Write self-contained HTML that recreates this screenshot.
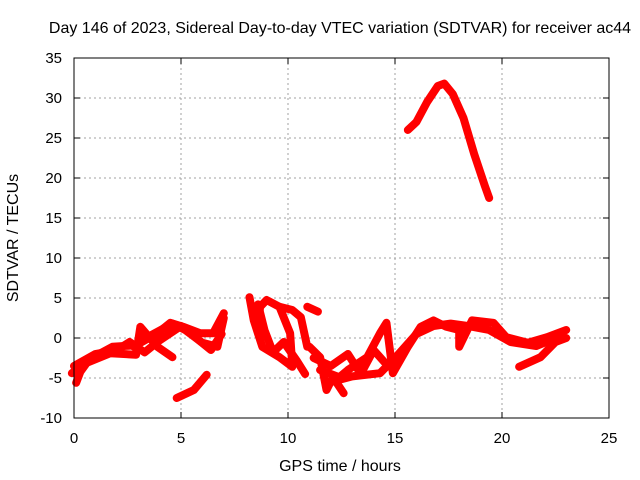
<!DOCTYPE html>
<html><head><meta charset="utf-8"><style>
body{margin:0;background:#fff}
svg{display:block;font-family:"Liberation Sans",sans-serif}
text{font-size:15px;fill:#000}
</style></head><body>
<svg id="chart" width="640" height="480">
<text x="340" y="33" text-anchor="middle" style="font-size:16px">Day 146 of 2023, Sidereal Day-to-day VTEC variation (SDTVAR) for receiver ac44</text>
<text x="340" y="471" text-anchor="middle" style="font-size:16px">GPS time / hours</text>
<text x="18" y="238" text-anchor="middle" style="font-size:16px" transform="rotate(-90 18 238)">SDTVAR / TECUs</text>
<g id="grid"></g><g id="ticks"></g><g id="marks"></g>
<rect x="74" y="58" width="535" height="360" fill="none" stroke="#000" stroke-width="1"/>
</svg>
<script>
const xTicks=[0,5,10,15,20,25];
const yTicks=[-10,-5,0,5,10,15,20,25,30,35];
const arcX=[15.6,16,16.5,17,17.3,17.7,18.2,18.7,19.2,19.4];
const arcY=[26,27,29.5,31.5,31.8,30.5,27.5,23,19,17.5];
const bandAX=[-0.1,0.9,1.8,2.9,3.9,4.5,5.1,5.9,6.5,7.0];
const bandAY=[-4.4,-2.4,-1.1,-0.9,0.6,1.9,1.4,0.6,0.6,3.1];
const bandBX=[0.1,0.3,0.6,1.7,2.9,3.1,3.9,4.6];
const bandBY=[-5.6,-4.2,-3.1,-1.9,-2.1,1.4,-1.1,-2.4];
const bandCX=[2.8,3.5,4.6,5.2,6.0,6.7,7.0];
const bandCY=[-1.1,0.2,1.8,1.0,-0.6,-1.1,2.5];
const bandDX=[0.0,1.0,2.0,2.6,3.3,4.0,5.0,5.8,6.4,6.9];
const bandDY=[-3.5,-2.0,-1.5,-0.5,-1.8,-0.3,1.5,-0.2,-1.5,0.5];
const lowX=[4.8,5.6,6.2];
const lowY=[-7.5,-6.5,-4.6];
const loop1X=[8.2,8.4,8.8,9.6,10.2,10.1,9.6,9.0,8.7,8.6];
const loop1Y=[5.1,2.2,-1.1,-2.4,-3.6,0.6,3.9,4.75,3.9,2.0];
const loop2X=[9.6,10.2,10.6,10.9,11.0,11.5,11.8,12.1,12.6];
const loop2Y=[3.9,3.5,2.6,-1.1,-1.1,-2.4,-6.5,-4.9,-6.9];
const loop3X=[8.6,8.9,9.3,9.8,10.4,10.8];
const loop3Y=[4.2,1.0,-1.8,-0.5,-2.8,-4.5];
const shortX=[10.9,11.4];
const shortY=[3.9,3.3];
const midX=[11.5,12.4,12.8,13.7,14.3,14.6,14.9,15.6,16.2,16.8,17.4,18.0,18.0,18.6,19.6,20.2,21.2,22.1,23.0];
const midY=[-4.0,-4.9,-4.0,-2.4,0.6,1.9,-4.4,-1.1,1.4,2.2,1.4,1.0,-1.1,2.2,1.9,0.1,-0.6,0.1,1.0];
const mid2X=[12.0,13.0,14.3,15.0,16.0,16.8,17.6,18.4,19.4,20.4,21.6,22.8];
const mid2Y=[-5.5,-4.8,-4.4,-2.5,0.5,1.5,1.8,1.5,1.0,-0.5,-1.0,0.3];
const mid3X=[11.2,12.0,12.8,13.4,14.0,14.5];
const mid3Y=[-2.5,-3.5,-2.0,-4.5,-1.5,-3.0];
const tailX=[20.8,21.8,22.5,23.0];
const tailY=[-3.6,-2.4,-0.5,0.0];
const series=[[arcX,arcY],[bandAX,bandAY],[bandBX,bandBY],[bandCX,bandCY],[bandDX,bandDY],[lowX,lowY],[loop1X,loop1Y],[loop2X,loop2Y],[loop3X,loop3Y],[shortX,shortY],[midX,midY],[mid2X,mid2Y],[mid3X,mid3Y],[tailX,tailY]];
const sx=v=>74+v*535/25, sy=v=>418-(v+10)*8;
const NS="http://www.w3.org/2000/svg";
const g=document.getElementById('grid'),t=document.getElementById('ticks'),m=document.getElementById('marks');
function mk(tag,a,p){const e=document.createElementNS(NS,tag);for(const k in a)e.setAttribute(k,a[k]);p.appendChild(e);return e;}
xTicks.forEach(v=>{const x=sx(v);
 if(v>0&&v<25){const l=mk('line',{x1:x,y1:58,x2:x,y2:418,stroke:'#a0a0a0','stroke-dasharray':'2,3'},g);
 
 }
 mk('line',{x1:x,y1:418,x2:x,y2:412,stroke:'#000'},t);mk('line',{x1:x,y1:58,x2:x,y2:64,stroke:'#000'},t);
 const tx=mk('text',{x:x,y:443,'text-anchor':'middle'},t);tx.textContent=v;
 
 });
yTicks.forEach(v=>{const y=sy(v);
 if(v>-10&&v<35){const l=mk('line',{x1:74,y1:y,x2:609,y2:y,stroke:'#a0a0a0','stroke-dasharray':'2,3'},g);
 
 }
 mk('line',{x1:74,y1:y,x2:80,y2:y,stroke:'#000'},t);mk('line',{x1:609,y1:y,x2:603,y2:y,stroke:'#000'},t);
 const tx=mk('text',{x:62,y:y+5,'text-anchor':'end'},t);tx.textContent=v;
 
 });
series.forEach(([xs,ys])=>{
 const pts=xs.map((x,i)=>sx(x)+','+sy(ys[i])).join(' ');
 const p=mk('polyline',{points:pts,fill:'none',stroke:'#ff0000','stroke-width':8,'stroke-linejoin':'round','stroke-linecap':'round'},m);
 
 });
</script>
</body></html>
